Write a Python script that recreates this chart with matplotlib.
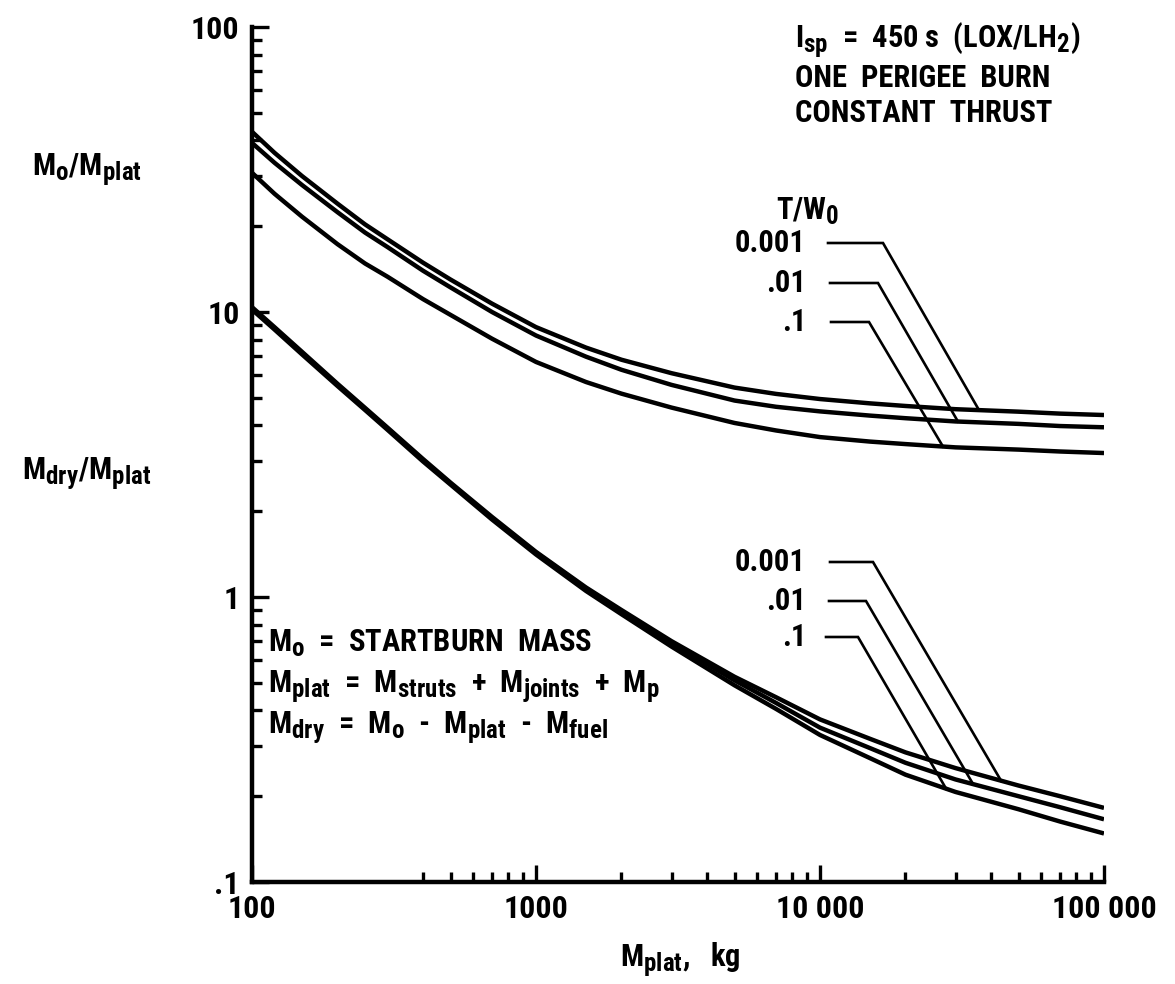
import numpy as np
import matplotlib
matplotlib.use("Agg")
import matplotlib.pyplot as plt
from matplotlib import font_manager as fm
import matplotlib._mathtext as _mt

# ---------------- data ----------------
m_plat = [100, 120, 150, 200, 250, 300, 400, 500, 700, 1000, 1500, 2000, 3000, 5000,
          7000, 10000, 15000, 20000, 30000, 50000, 70000, 100000]
tw_labels = ["0.001", ".01", ".1"]

mo_tw001 = [42.9, 36.2, 30.0, 24.0, 20.3, 18.0, 14.9, 13.0, 10.7, 8.85, 7.5, 6.8, 6.1, 5.43,
            5.16, 4.95, 4.78, 4.68, 4.56, 4.47, 4.40, 4.35]
mo_tw01 = [39.2, 33.4, 27.9, 22.4, 19.0, 16.9, 13.96, 12.2, 10.0, 8.27, 6.97, 6.27, 5.55, 4.89,
           4.65, 4.48, 4.33, 4.24, 4.13, 4.05, 3.98, 3.94]
mo_tw1 = [30.8, 26.0, 21.6, 17.3, 14.8, 13.3, 11.1, 9.77, 8.06, 6.68, 5.68, 5.17, 4.62, 4.08,
          3.84, 3.64, 3.51, 3.44, 3.35, 3.29, 3.24, 3.20]

mdry_tw001 = [10.4, 8.85, 7.25, 5.6, 4.61, 3.93, 3.05, 2.52, 1.91, 1.44, 1.08, 0.90, 0.70, 0.525,
              0.445, 0.372, 0.318, 0.285, 0.251, 0.218, 0.20, 0.182]
mdry_tw01 = [10.3, 8.77, 7.18, 5.55, 4.57, 3.90, 3.02, 2.50, 1.89, 1.43, 1.07, 0.89, 0.69, 0.51,
             0.425, 0.348, 0.295, 0.262, 0.229, 0.20, 0.183, 0.166]
mdry_tw1 = [10.2, 8.68, 7.10, 5.50, 4.53, 3.86, 2.99, 2.48, 1.87, 1.41, 1.05, 0.87, 0.67, 0.49,
            0.405, 0.328, 0.272, 0.238, 0.207, 0.18, 0.163, 0.148]

x_major = [100, 1000, 10000, 100000]
x_major_labels = ["100", "1000", "10 000", "100 000"]
x_minor = [400, 500, 600, 700, 800, 900] + [k * 1000 for k in range(2, 10)] + [k * 10000 for k in range(2, 10)]
y_major = [0.1, 1, 10, 100]
y_major_labels = [".1", "1", "10", "100"]
y_minor = [k * 0.1 for k in range(2, 10)] + list(range(2, 10)) + [k * 10 for k in range(2, 10)]

# ---------------- font ----------------
names = {f.name for f in fm.fontManager.ttflist}
FONT = "DejaVu Sans"
for cand in ["Liberation Sans Narrow", "Roboto Condensed", "Open Sans Condensed", "DejaVu Sans"]:
    if cand in names:
        FONT = cand
        break
plt.rcParams["font.family"] = [FONT, "DejaVu Sans"]
plt.rcParams["font.weight"] = "bold"
plt.rcParams["mathtext.default"] = "regular"
# larger subscripts, like the original lettering
_mt.SHRINK_FACTOR = 0.82

W, H = 1175, 984
fig = plt.figure(figsize=(W / 100, H / 100), dpi=100)
L, R, T, B = 252, 1104, 27, 882
ax = fig.add_axes([L / W, 1 - B / H, (R - L) / W, (B - T) / H])
ax.set_xscale("log")
ax.set_yscale("log")
ax.set_xlim(100, 100000)
ax.set_ylim(0.1, 100)

lw = 3.2
for s in (mo_tw001, mo_tw01, mo_tw1, mdry_tw001, mdry_tw01, mdry_tw1):
    ax.plot(m_plat, s, color="black", lw=lw, solid_capstyle="butt", solid_joinstyle="round")

for sp in ("top", "right"):
    ax.spines[sp].set_visible(False)
for sp in ("left", "bottom"):
    ax.spines[sp].set_linewidth(3.2)

ax.set_xticks(x_major)
ax.set_xticklabels(x_major_labels)
ax.set_xticks(x_minor, minor=True)
ax.set_xticklabels([], minor=True)
ax.set_yticks(y_major)
ax.set_yticklabels(y_major_labels)
ax.set_yticks(y_minor, minor=True)
ax.set_yticklabels([], minor=True)
ax.tick_params(which="major", direction="in", length=12, width=2.4, labelsize=23, pad=9)
ax.tick_params(which="minor", direction="in", length=7.5, width=2.4)


def F(px, py):
    return px / W, 1 - py / H


def A(px, py):
    return (px - L) / (R - L), (B - py) / (B - T)


TS = 22
# axis labels
fig.text(*F(32, 176), r"$M_o/M_{plat}$", fontsize=TS, ha="left", va="baseline")
fig.text(*F(22, 480), r"$M_{dry}/M_{plat}$", fontsize=TS, ha="left", va="baseline")
fig.text(*F(620, 967), r"$M_{plat},$  kg", fontsize=TS, ha="left", va="baseline")

# top-right notes
fig.text(*F(795, 48), r"$I_{sp}$  =  450 s  (LOX/LH$_2$)", fontsize=TS, ha="left", va="baseline")
fig.text(*F(795, 87), "ONE  PERIGEE  BURN", fontsize=TS, ha="left", va="baseline")
fig.text(*F(795, 122), "CONSTANT  THRUST", fontsize=TS, ha="left", va="baseline")

# definitions
fig.text(*F(268, 652), r"$M_o$  =  STARTBURN  MASS", fontsize=TS, ha="left", va="baseline")
fig.text(*F(268, 693), r"$M_{plat}$  =  $M_{struts}$  +  $M_{joints}$  +  $M_p$", fontsize=TS,
         ha="left", va="baseline")
fig.text(*F(268, 734), r"$M_{dry}$  =  $M_o$  -  $M_{plat}$  -  $M_{fuel}$", fontsize=TS,
         ha="left", va="baseline")

# T/W0 leader labels
fig.text(*F(776, 220), r"T/W$_0$", fontsize=TS, ha="left", va="baseline")


def curve_y(xs, ys, xv):
    return 10 ** np.interp(np.log10(xv), np.log10(xs), np.log10(ys))


leaders = [
    # label, label y px, start px, elbow px, series, end x (data)
    (tw_labels[0], 243, 828, 883, mo_tw001, 36300),
    (tw_labels[1], 283, 830, 878, mo_tw01, 30600),
    (tw_labels[2], 322, 831, 869, mo_tw1, 27100),
    (tw_labels[0], 562, 830, 873, mdry_tw001, 43400),
    (tw_labels[1], 601, 829, 866, mdry_tw01, 34600),
    (tw_labels[2], 637, 826, 858, mdry_tw1, 27800),
]
for lab, ly, sx, ex, series, xend in leaders:
    fig.text(*F(806, ly), lab, fontsize=TS, ha="right", va="center")
    p0 = A(sx, ly)
    p1 = A(ex, ly)
    yend = curve_y(m_plat, series, xend)
    pe = ax.transAxes.inverted().transform(ax.transData.transform((xend, yend)))
    ax.plot([p0[0], p1[0], pe[0]], [p0[1], p1[1], pe[1]], color="black", lw=1.9,
            transform=ax.transAxes, clip_on=False, solid_joinstyle="miter")

fig.savefig("out.png", dpi=100)
